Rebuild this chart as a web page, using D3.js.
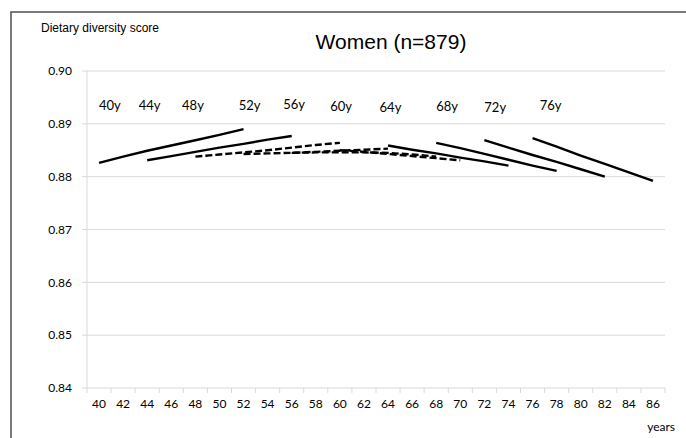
<!DOCTYPE html>
<html>
<head>
<meta charset="utf-8">
<script src="https://cdn.jsdelivr.net/npm/d3@7"></script>
<style>
  body { margin: 0; background: #fff; }
  svg { display: block; }
</style>
</head>
<body>
<script>
// cohorts (age at baseline) and their follow-up trajectories, one point every 2 years
const cohorts = ["40y", "44y", "48y", "52y", "56y", "60y", "64y", "68y", "72y", "76y"];
const startAges = [40, 44, 48, 52, 56, 60, 64, 68, 72, 76];
const dashedCohorts = ["48y", "52y", "56y", "60y"];

const scores40 = [0.8826, 0.8838, 0.8849, 0.8859, 0.8869, 0.8879, 0.8890];
const scores44 = [0.8831, 0.8839, 0.8847, 0.8855, 0.8862, 0.8870, 0.8877];
const scores48 = [0.8838, 0.8842, 0.8846, 0.8850, 0.8855, 0.8860, 0.8864];
const scores52 = [0.8843, 0.8844, 0.8845, 0.8847, 0.8849, 0.8851, 0.8853];
const scores56 = [0.8845, 0.8846, 0.8846, 0.8846, 0.8845, 0.8842, 0.8838];
const scores60 = [0.8850, 0.8847, 0.8843, 0.8839, 0.8835, 0.8831];
const scores64 = [0.8859, 0.8851, 0.8844, 0.8836, 0.8829, 0.8821];
const scores68 = [0.8864, 0.8854, 0.8843, 0.8832, 0.8821, 0.8811];
const scores72 = [0.8869, 0.8855, 0.8841, 0.8828, 0.8814, 0.8800];
const scores76 = [0.8873, 0.8857, 0.8840, 0.8824, 0.8808, 0.8792];
const allScores = [scores40, scores44, scores48, scores52, scores56, scores60, scores64, scores68, scores72, scores76];

// where the cohort labels sit (in chart units)
const labelAges = [40.9, 44.2, 47.8, 52.5, 56.2, 60.1, 64.2, 68.9, 72.9, 77.5];
const labelScores = [0.8935, 0.8935, 0.8935, 0.8935, 0.8936, 0.8933, 0.8931, 0.8933, 0.8931, 0.8934];

const xTicks = d3.range(40, 87, 2);
const yTicks = [0.84, 0.85, 0.86, 0.87, 0.88, 0.89, 0.90];

const W = 686, H = 438;
const plotLeft = 87, plotRight = 665, plotTop = 71, plotBottom = 388;

const svg = d3.select("body").append("svg")
    .attr("width", W)
    .attr("height", H);

// outer frame (only left/top edges are visible in the picture)
svg.append("rect")
    .attr("x", 11)
    .attr("y", 12)
    .attr("width", W + 20)
    .attr("height", H + 20)
    .attr("fill", "#fff")
    .attr("stroke", "#595959")
    .attr("stroke-width", 1.6);

// category axis: each 2-year step is a band, labels in the middle
const x = d3.scaleLinear().domain([39, 87]).range([plotLeft, plotRight]);
const y = d3.scaleLinear().domain([0.84, 0.90]).range([plotBottom, plotTop]);

const tickFont = "Lato, 'Open Sans', sans-serif";

// gridlines
svg.append("g")
    .selectAll("line")
    .data(yTicks)
    .join("line")
    .attr("x1", plotLeft - 5)
    .attr("x2", plotRight)
    .attr("y1", d => y(d))
    .attr("y2", d => y(d))
    .attr("stroke", "#d9d9d9")
    .attr("stroke-width", 1);

// vertical axis line
svg.append("line")
    .attr("x1", plotLeft).attr("x2", plotLeft)
    .attr("y1", plotTop).attr("y2", plotBottom)
    .attr("stroke", "#d9d9d9");

// y tick labels
svg.append("g")
    .selectAll("text")
    .data(yTicks)
    .join("text")
    .attr("x", plotLeft - 15)
    .attr("y", d => y(d))
    .attr("dy", "0.35em")
    .attr("text-anchor", "end")
    .attr("font-family", tickFont)
    .attr("font-size", "12px")
    .attr("fill", "#000")
    .text(d => d.toFixed(2));

// x tick marks on band edges
svg.append("g")
    .selectAll("line")
    .data(d3.range(39, 88, 2))
    .join("line")
    .attr("x1", d => x(d))
    .attr("x2", d => x(d))
    .attr("y1", plotBottom)
    .attr("y2", plotBottom + 5)
    .attr("stroke", "#d9d9d9");

// x tick labels
svg.append("g")
    .selectAll("text")
    .data(xTicks)
    .join("text")
    .attr("x", d => x(d))
    .attr("y", plotBottom + 20)
    .attr("text-anchor", "middle")
    .attr("font-family", tickFont)
    .attr("font-size", "12px")
    .attr("fill", "#000")
    .text(d => d);

svg.append("text")
    .attr("x", 675)
    .attr("y", 431)
    .attr("text-anchor", "end")
    .attr("font-family", tickFont)
    .attr("font-size", "12px")
    .text("years");

// titles
svg.append("text")
    .attr("x", 41)
    .attr("y", 32)
    .attr("font-family", "'Liberation Sans', Arial, sans-serif")
    .attr("font-size", "12px")
    .text("Dietary diversity score");

svg.append("text")
    .attr("x", 391)
    .attr("y", 49)
    .attr("text-anchor", "middle")
    .attr("font-family", "'Liberation Sans', Arial, sans-serif")
    .attr("font-size", "21px")
    .text("Women (n=879)");

// cohort trajectories
const line = d3.line()
    .x(d => x(d.age))
    .y(d => y(d.score));

const series = cohorts.map((c, i) => ({
    name: c,
    dashed: dashedCohorts.includes(c),
    points: allScores[i].map((s, j) => ({ age: startAges[i] + j * 2, score: s }))
}));

svg.append("g")
    .selectAll("path")
    .data(series)
    .join("path")
    .attr("d", d => line(d.points))
    .attr("fill", "none")
    .attr("stroke", "#000")
    .attr("stroke-width", 2.4)
    .attr("stroke-dasharray", d => d.dashed ? "7,3" : null);

// cohort labels
svg.append("g")
    .selectAll("text")
    .data(cohorts)
    .join("text")
    .attr("x", (d, i) => x(labelAges[i]))
    .attr("y", (d, i) => y(labelScores[i]))
    .attr("dy", "0.35em")
    .attr("text-anchor", "middle")
    .attr("font-family", tickFont)
    .attr("font-size", "13px")
    .text(d => d);
</script>
</body>
</html>
